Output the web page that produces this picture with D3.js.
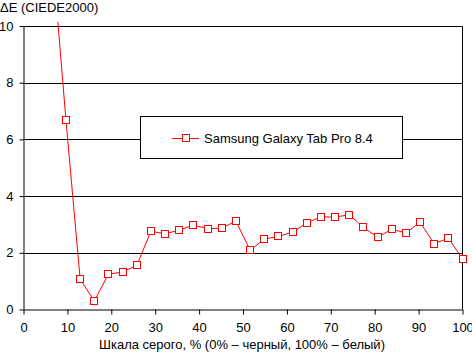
<!DOCTYPE html>
<html><head><meta charset="utf-8">
<script src="https://cdn.jsdelivr.net/npm/d3@7"></script>
<style>body{margin:0;background:#fff}svg{display:block}text{font-family:"Liberation Sans",Arial,sans-serif;fill:#000}</style>
</head><body><svg id="c" width="472" height="352"></svg>
<script>
const grayLevels = [6.45,9.68,12.9,16.13,19.35,22.58,25.81,29.03,32.26,35.48,38.71,41.94,45.16,48.39,51.61,54.84,58.06,61.29,64.52,67.74,70.97,74.19,77.42,80.65,83.87,87.1,90.32,93.55,96.77,100];
const deltaE = [12.7,6.67,1.07,0.3,1.25,1.32,1.56,2.76,2.67,2.8,2.98,2.85,2.87,3.12,2.09,2.48,2.58,2.73,3.05,3.27,3.26,3.34,2.9,2.55,2.83,2.7,3.08,2.32,2.52,1.79];
const xTicks = [0,10,20,30,40,50,60,70,80,90,100];
const yTicks = [0,2,4,6,8,10];
const seriesName = "Samsung Galaxy Tab Pro 8.4";
const yTitle = "ΔE (CIEDE2000)";
const xTitle = "Шкала серого, % (0% – черный, 100% – белый)";

const svg = d3.select("#c");
const L=23.5, R=462.5, T=26, B=309.5;
const x = d3.scaleLinear().domain([0,100]).range([L,R]);
const y = d3.scaleLinear().domain([0,10]).range([B,T]);

// gridlines
svg.append("g").selectAll("line").data(yTicks.filter(d=>d>0)).join("line")
  .attr("x1",L).attr("x2",R).attr("y1",d=>Math.round(y(d))+0.5).attr("y2",d=>Math.round(y(d))+0.5)
  .attr("stroke","#000").attr("stroke-width",1);
// right border
svg.append("line").attr("x1",R).attr("x2",R).attr("y1",Math.round(y(10))+0.5).attr("y2",B).attr("stroke","#000");

// axes
const yAxis = d3.axisLeft(y).tickValues(yTicks).tickSize(4).tickPadding(6).tickFormat(d3.format("d"));
const gy = svg.append("g").attr("transform",`translate(${L},0)`).call(yAxis);
const xAxis = d3.axisBottom(x).tickValues(xTicks).tickSize(5).tickPadding(8).tickFormat(d3.format("d"));
const gx = svg.append("g").attr("transform",`translate(0,${B})`).call(xAxis);
[gx,gy].forEach(g=>{g.select(".domain").attr("stroke","#000");g.selectAll(".tick line").attr("stroke","#000");
  g.selectAll("text").style("font-size","13px").style("font-family","'Liberation Sans',Arial,sans-serif").attr("fill","#000");});
gy.select(".domain").attr("d",`M0.5,${T}V${B}`);
gx.select(".domain").attr("d",`M${L},0.5H${R}`);

// clip
svg.append("clipPath").attr("id","clip").append("rect").attr("x",L).attr("y",22).attr("width",R-L+5).attr("height",B-22+5);

const pts = grayLevels.map((g,i)=>({g,v:deltaE[i]}));
const line = d3.line().x(d=>x(d.g)).y(d=>y(d.v));
const gs = svg.append("g").attr("clip-path","url(#clip)");
gs.append("path").datum(pts).attr("d",line).attr("fill","none").attr("stroke","#ff0000").attr("stroke-width",1);
gs.selectAll("rect.m").data(pts.filter(d=>d.v<=10)).join("rect").attr("class","m")
  .attr("x",d=>Math.round(x(d.g))-3.5).attr("y",d=>Math.round(y(d.v))-3.5).attr("width",7).attr("height",7)
  .attr("fill","#fff").attr("stroke","#ff0000").attr("stroke-width",1);

// legend
const lg = svg.append("g");
lg.append("rect").attr("x",140.5).attr("y",116.5).attr("width",262).attr("height",42).attr("fill","#fff").attr("stroke","#000");
lg.append("line").attr("x1",172).attr("x2",199).attr("y1",138.5).attr("y2",138.5).attr("stroke","#ff0000");
lg.append("rect").attr("x",182.5).attr("y",134.5).attr("width",7).attr("height",7).attr("fill","#fff").attr("stroke","#ff0000");
lg.append("text").attr("x",204).attr("y",143).style("font-size","13px").text(seriesName);

// titles
svg.append("text").attr("x",0).attr("y",12).style("font-size","13px").text(yTitle);
svg.append("text").attr("x",242).attr("y",349).attr("text-anchor","middle").style("font-size","13px").text(xTitle);
</script></body></html>
